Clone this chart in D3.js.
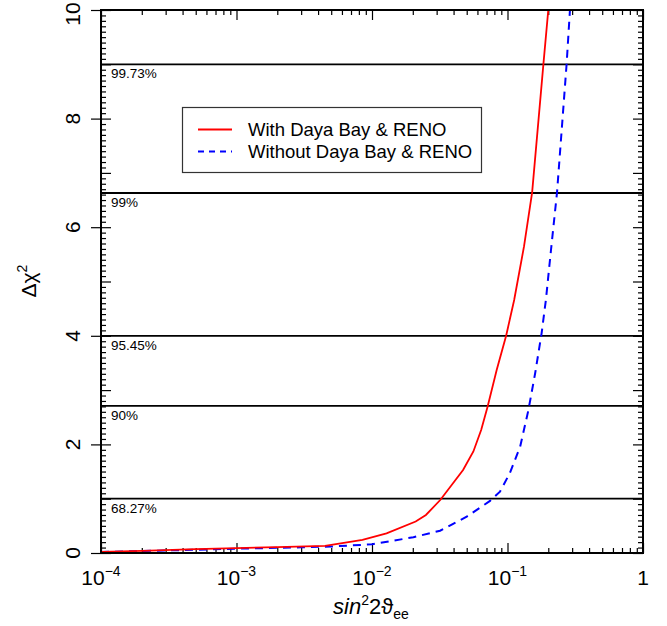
<!DOCTYPE html>
<html>
<head>
<meta charset="utf-8">
<script src="https://cdn.jsdelivr.net/npm/d3@7/dist/d3.min.js"></script>
<style>
  html, body { margin: 0; padding: 0; background: #fff; }
  svg { display: block; font-family: "Liberation Sans", Arial, Helvetica, sans-serif; }
</style>
</head>
<body>
<svg id="chart" width="667" height="626"></svg>
<script>
// Δχ² profile versus sin²2ϑee, with and without the Daya Bay & RENO data
const withDB = [
  [1e-4, 0.02], [2e-4, 0.04], [5e-4, 0.07], [1e-3, 0.09], [2e-3, 0.11],
  [4.5e-3, 0.13], [8.5e-3, 0.24], [0.0128, 0.36], [0.021, 0.58], [0.025, 0.70],
  [0.032, 0.98], [0.047, 1.53], [0.056, 1.87], [0.064, 2.27], [0.0712, 2.69],
  [0.0832, 3.37], [0.0977, 4.0], [0.112, 4.66], [0.1325, 5.65], [0.152, 6.64],
  [0.184, 9.0], [0.2, 10.0]
];
const withoutDB = [
  [1e-4, 0.02], [2e-4, 0.035], [5e-4, 0.06], [1e-3, 0.08], [2e-3, 0.095],
  [3e-3, 0.105], [5e-3, 0.12], [0.01, 0.16], [0.0202, 0.29], [0.0318, 0.41],
  [0.05, 0.67], [0.0743, 0.96], [0.088, 1.13], [0.104, 1.47], [0.124, 1.96],
  [0.1426, 2.63], [0.16, 3.31], [0.1786, 4.05], [0.192, 4.66], [0.2094, 5.58],
  [0.232, 6.64], [0.273, 9.0], [0.289, 10.0]
];
const seriesNames = ["With Daya Bay & RENO", "Without Daya Bay & RENO"];

// confidence-level reference lines
const clLevels = [1.0, 2.71, 4.0, 6.63, 9.0];
const clLabels = ["68.27%", "90%", "95.45%", "99%", "99.73%"];

// axis tick labels
const xTickExps = [-4, -3, -2, -1, 0];
const yTickLabels = [0, 2, 4, 6, 8, 10];

const svg = d3.select("#chart");
const m = { left: 101, right: 643, top: 10, bottom: 553 };

const x = d3.scaleLog().domain([1e-4, 1]).range([m.left, m.right]);
const y = d3.scaleLinear().domain([0, 10]).range([m.bottom, m.top]);

// tick positions
const xMajor = xTickExps.map(e => Math.pow(10, e));
const xMinor = [];
for (let e = -4; e < 0; e++) for (let k = 2; k <= 9; k++) xMinor.push(k * Math.pow(10, e));
const yMinor = d3.range(0, 101).map(i => i / 10).filter(v => Math.abs(v - Math.round(v)) > 1e-6);
const yInt = d3.range(0, 11);

function styleAxis(g) {
  g.select(".domain").remove();
  g.selectAll(".tick line").attr("stroke", "#000").attr("stroke-width", 1.2);
  g.selectAll(".tick text").remove();
}

// bottom axis: inward ticks
svg.append("g").attr("transform", `translate(0,${m.bottom})`)
  .call(d3.axisBottom(x).tickValues(xMajor).tickSize(-10).tickFormat("")).call(styleAxis);
svg.append("g").attr("transform", `translate(0,${m.bottom})`)
  .call(d3.axisBottom(x).tickValues(xMinor).tickSize(-5).tickFormat("")).call(styleAxis);
// top axis: inward ticks
svg.append("g").attr("transform", `translate(0,${m.top})`)
  .call(d3.axisTop(x).tickValues(xMajor).tickSize(-10).tickFormat("")).call(styleAxis);
svg.append("g").attr("transform", `translate(0,${m.top})`)
  .call(d3.axisTop(x).tickValues(xMinor).tickSize(-5).tickFormat("")).call(styleAxis);

// left axis: outward major ticks, inward integer and minor ticks
svg.append("g").attr("transform", `translate(${m.left},0)`)
  .call(d3.axisLeft(y).tickValues(yTickLabels).tickSize(10).tickFormat("")).call(styleAxis);
svg.append("g").attr("transform", `translate(${m.left},0)`)
  .call(d3.axisLeft(y).tickValues(yInt).tickSize(-10).tickFormat("")).call(styleAxis);
svg.append("g").attr("transform", `translate(${m.left},0)`)
  .call(d3.axisLeft(y).tickValues(yMinor).tickSize(-5).tickFormat("")).call(styleAxis);
// right axis: inward ticks
svg.append("g").attr("transform", `translate(${m.right},0)`)
  .call(d3.axisRight(y).tickValues(yInt).tickSize(-10).tickFormat("")).call(styleAxis);
svg.append("g").attr("transform", `translate(${m.right},0)`)
  .call(d3.axisRight(y).tickValues(yMinor).tickSize(-5).tickFormat("")).call(styleAxis);

// x tick labels: powers of ten
const xl = svg.append("g").attr("font-size", 21).attr("fill", "#000");
xTickExps.forEach(e => {
  const t = xl.append("text")
    .attr("x", x(Math.pow(10, e)))
    .attr("y", 585)
    .attr("text-anchor", "middle");
  if (e === 0) {
    t.text("1");
  } else {
    t.append("tspan").text("10");
    t.append("tspan").attr("dy", -9).attr("font-size", 14).text("\u2212" + Math.abs(e));
  }
});

// y tick labels, rotated; the top one is nudged down to stay on the canvas
const yl = svg.append("g").attr("font-size", 21).attr("fill", "#000");
yTickLabels.forEach(v => {
  const cy = Math.max(y(v), 14);
  yl.append("text")
    .attr("transform", `translate(80,${cy}) rotate(-90)`)
    .attr("text-anchor", "middle")
    .text(v);
});

// confidence-level lines and labels
const cl = svg.append("g");
clLevels.forEach((v, i) => {
  cl.append("line")
    .attr("x1", m.left).attr("x2", m.right)
    .attr("y1", y(v)).attr("y2", y(v))
    .attr("stroke", "#000").attr("stroke-width", 1.8);
  cl.append("text")
    .attr("x", 111).attr("y", y(v) + 14)
    .attr("font-size", 13.5).attr("fill", "#000")
    .text(clLabels[i]);
});

// curves
svg.append("clipPath").attr("id", "plotclip")
  .append("rect").attr("x", m.left).attr("y", m.top)
  .attr("width", m.right - m.left).attr("height", m.bottom - m.top);

const line = d3.line().x(d => x(d[0])).y(d => y(d[1]));
const curves = svg.append("g").attr("clip-path", "url(#plotclip)");
curves.append("path").datum(withoutDB)
  .attr("d", line).attr("fill", "none")
  .attr("stroke", "#0000ff").attr("stroke-width", 2)
  .attr("stroke-dasharray", "8,6");
curves.append("path").datum(withDB)
  .attr("d", line).attr("fill", "none")
  .attr("stroke", "#ff0000").attr("stroke-width", 1.8);

// frame
svg.append("rect")
  .attr("x", m.left).attr("y", m.top)
  .attr("width", m.right - m.left).attr("height", m.bottom - m.top)
  .attr("fill", "none").attr("stroke", "#000").attr("stroke-width", 2);

// legend
const lg = svg.append("g");
lg.append("rect").attr("x", 182.5).attr("y", 107.5).attr("width", 299).attr("height", 65)
  .attr("fill", "#fff").attr("stroke", "#333").attr("stroke-width", 1.2);
const legendStyles = [
  { color: "#ff0000", dash: null, y: 129.5 },
  { color: "#0000ff", dash: "6,5", y: 151.5 }
];
seriesNames.forEach((name, i) => {
  const s = legendStyles[i];
  lg.append("line").attr("x1", 198).attr("x2", 232).attr("y1", s.y).attr("y2", s.y)
    .attr("stroke", s.color).attr("stroke-width", 1.8)
    .attr("stroke-dasharray", s.dash);
  lg.append("text").attr("x", 248).attr("y", s.y + 6)
    .attr("font-size", 18.5).attr("fill", "#000").text(name);
});

// axis titles
const xt = svg.append("text")
  .attr("x", 371).attr("y", 614)
  .attr("text-anchor", "middle").attr("font-size", 22).attr("fill", "#000");
xt.append("tspan").attr("font-style", "italic").text("sin");
xt.append("tspan").attr("dy", -9).attr("font-size", 14).text("2");
xt.append("tspan").attr("dy", 9).text("2\u03d1");
xt.append("tspan").attr("dy", 5).attr("font-size", 14).text("ee");

const yt = svg.append("text")
  .attr("transform", "translate(36,281) rotate(-90)")
  .attr("text-anchor", "middle").attr("font-size", 21).attr("fill", "#000");
yt.append("tspan").text("\u0394\u03c7");
yt.append("tspan").attr("dy", -9).attr("font-size", 14).text("2");
</script>
</body>
</html>
